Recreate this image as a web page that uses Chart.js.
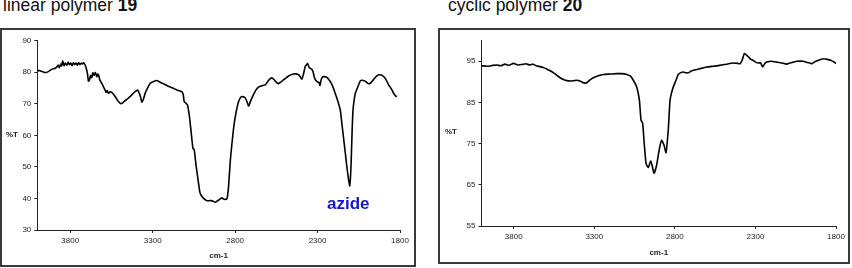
<!DOCTYPE html>
<html>
<head>
<meta charset="utf-8">
<script src="https://cdn.jsdelivr.net/npm/chart.js@4"></script>
<style>
  body { margin: 0; width: 852px; height: 268px; background: #fff; position: relative; overflow: hidden; font-family: "Liberation Sans", Arial, sans-serif; }
  .title { position: absolute; font-size: 17.5px; line-height: 17.5px; color: #111; white-space: nowrap; }
  .box { position: absolute; border: 2px solid #3a3a3a; box-sizing: border-box; }
  .box canvas { position: absolute; left: 0; top: 0; }
  .ylab { position: absolute; font-size: 8px; font-weight: bold; color: #222; }
  #azide { position: absolute; left: 327px; top: 195px; font-size: 17px; line-height: 17px; font-weight: bold; color: #1515cc; }
</style>
</head>
<body>
<div class="title" style="left:3px; top:-3px;">linear polymer <b>19</b></div>
<div class="title" style="left:448px; top:-3px;">cyclic polymer <b>20</b></div>

<div class="box" style="left:0; top:28px; width:416px; height:239px;">
  <div style="position:absolute; left:0; top:0; width:412px; height:235px;"><canvas id="linearChart"></canvas></div>
</div>
<div class="box" style="left:438px; top:28px; width:412px; height:236px;">
  <div style="position:absolute; left:0; top:0; width:408px; height:232px;"><canvas id="cyclicChart"></canvas></div>
</div>
<div class="ylab" style="left:6px; top:130px;">%T</div>
<div class="ylab" style="left:445px; top:127px;">%T</div>
<div id="azide">azide</div>

<script>
// IR spectra, wavenumber (cm-1) vs %T
const xTicks = [3800, 3300, 2800, 2300, 1800];
const linearYTicks = [30, 40, 50, 60, 70, 80, 90];
const cyclicYTicks = [55, 65, 75, 85, 95];

const linearWn = [4000, 3984, 3953, 3933, 3913, 3896, 3882, 3874, 3866, 3858, 3852, 3846, 3838, 3830, 3821, 3813, 3805, 3797, 3789, 3781, 3773, 3765, 3757, 3749, 3741, 3733, 3726, 3720, 3710, 3703, 3696, 3690, 3684, 3677, 3670, 3663, 3656, 3648, 3639, 3634, 3629, 3622, 3615, 3607, 3599, 3591, 3583, 3576, 3569, 3558, 3548, 3538, 3528, 3518, 3508, 3493, 3480, 3467, 3452, 3437, 3420, 3406, 3392, 3380, 3372, 3366, 3356, 3346, 3330, 3315, 3298, 3275, 3260, 3237, 3215, 3194, 3175, 3153, 3138, 3123, 3115, 3109, 3099, 3089, 3083, 3077, 3066, 3056, 3048, 3042, 3036, 3022, 3014, 3007, 2991, 2971, 2955, 2940, 2930, 2920, 2900, 2880, 2870, 2860, 2849, 2840, 2829, 2813, 2799, 2779, 2762, 2750, 2738, 2727, 2718, 2705, 2688, 2672, 2658, 2638, 2617, 2600, 2587, 2575, 2563, 2550, 2537, 2515, 2496, 2476, 2456, 2435, 2415, 2405, 2395, 2385, 2375, 2360, 2352, 2344, 2336, 2328, 2320, 2314, 2303, 2293, 2285, 2279, 2271, 2263, 2248, 2233, 2212, 2192, 2177, 2162, 2152, 2142, 2131, 2121, 2112, 2105, 2099, 2095, 2090, 2085, 2078, 2071, 2055, 2040, 2022, 2006, 1993, 1980, 1968, 1956, 1942, 1929, 1914, 1899, 1884, 1869, 1853, 1838, 1828, 1818, 1808, 1800];
const linearT = [80.5, 80.5, 79.9, 80.2, 80.9, 81.2, 81.6, 82.3, 81.4, 82.6, 82.0, 83.6, 82.1, 82.9, 82.2, 83.2, 82.4, 82.9, 82.1, 83.0, 82.4, 82.9, 82.2, 83.1, 82.4, 82.9, 82.6, 83.0, 82.3, 81.2, 79.7, 77.2, 77.5, 79.0, 78.3, 79.8, 79.0, 79.9, 78.6, 79.4, 79.2, 77.8, 77.0, 76.3, 75.4, 74.6, 73.6, 74.2, 73.3, 73.8, 73.6, 73.0, 72.3, 71.5, 70.7, 70.0, 70.4, 71.0, 71.6, 72.3, 73.2, 73.9, 74.4, 73.2, 71.8, 70.5, 71.5, 73.3, 75.1, 76.5, 77.0, 77.4, 77.0, 76.4, 75.8, 75.3, 74.9, 74.4, 74.1, 73.8, 73.0, 70.7, 70.2, 69.6, 68.0, 65.9, 60.6, 55.9, 55.4, 52.8, 50.1, 44.8, 42.0, 41.1, 40.0, 39.3, 39.3, 39.3, 39.0, 38.8, 39.5, 40.2, 39.8, 39.7, 40.0, 43.7, 52.2, 60.6, 65.9, 70.7, 72.3, 72.2, 71.8, 70.5, 69.3, 71.0, 73.0, 74.5, 75.3, 75.7, 76.0, 77.2, 78.0, 78.2, 77.6, 76.8, 76.4, 77.2, 78.0, 78.8, 79.3, 79.5, 79.2, 78.6, 77.8, 79.5, 81.8, 82.8, 81.6, 81.2, 81.0, 80.2, 78.5, 77.7, 77.0, 76.8, 75.8, 77.5, 78.4, 78.6, 78.5, 77.8, 76.0, 73.2, 70.8, 68.0, 63.5, 59.0, 54.0, 49.5, 46.0, 44.0, 48.0, 53.7, 62.0, 68.0, 71.2, 73.3, 75.5, 77.3, 77.4, 77.0, 76.4, 76.5, 77.2, 78.0, 78.8, 79.2, 79.1, 78.6, 77.6, 76.0, 74.8, 73.3, 72.5, 72.3];

const cyclicWn = [4000, 3965, 3930, 3905, 3880, 3855, 3830, 3802, 3775, 3750, 3725, 3699, 3680, 3660, 3636, 3610, 3590, 3574, 3553, 3533, 3512, 3492, 3470, 3450, 3425, 3403, 3390, 3378, 3362, 3347, 3326, 3306, 3275, 3244, 3200, 3161, 3130, 3099, 3075, 3058, 3037, 3020, 3010, 3000, 2990, 2979, 2965, 2950, 2940, 2929, 2913, 2896, 2882, 2867, 2855, 2841, 2830, 2813, 2793, 2779, 2760, 2748, 2730, 2717, 2700, 2685, 2645, 2602, 2560, 2520, 2480, 2437, 2410, 2396, 2383, 2369, 2356, 2344, 2330, 2313, 2300, 2282, 2268, 2255, 2243, 2230, 2200, 2168, 2137, 2106, 2085, 2065, 2044, 2003, 1980, 1962, 1951, 1925, 1900, 1875, 1848, 1825, 1807, 1800];
const cyclicT = [93.9, 93.8, 94.0, 94.1, 93.9, 94.3, 94.0, 94.5, 94.1, 94.2, 94.4, 94.1, 94.3, 93.9, 93.7, 93.4, 93.0, 92.7, 92.2, 91.6, 91.0, 90.6, 90.3, 90.2, 90.3, 90.4, 90.2, 90.0, 89.7, 89.8, 90.5, 91.0, 91.5, 91.8, 91.9, 92.0, 92.0, 91.8, 91.4, 90.4, 88.8, 85.5, 80.7, 80.0, 75.0, 70.2, 69.2, 70.8, 69.5, 67.8, 69.8, 73.8, 75.8, 74.6, 72.8, 78.3, 85.5, 88.4, 90.4, 91.8, 92.3, 92.4, 92.2, 92.2, 92.6, 92.8, 93.2, 93.6, 93.8, 94.0, 94.3, 94.6, 94.5, 94.4, 95.2, 96.9, 96.5, 96.1, 95.5, 95.2, 94.8, 94.6, 94.6, 93.6, 94.4, 94.8, 95.0, 94.8, 94.6, 94.3, 94.6, 94.8, 95.0, 95.0, 94.7, 94.6, 94.4, 95.0, 95.4, 95.6, 95.4, 95.1, 94.7, 94.4];

function toPoints(wn, t) {
  return wn.map((w, i) => ({ x: w, y: t[i] }));
}

const axisColor = '#222';
const tickFont = { family: '"Liberation Sans", Arial, sans-serif', size: 8 };

function makeSpectrum(canvasId, wn, t, yMin, yMax, yTicks, yWidth, xHeight, pad) {
  return new Chart(document.getElementById(canvasId), {
    type: 'scatter',
    data: {
      datasets: [{
        data: toPoints(wn, t),
        showLine: true,
        borderColor: '#000',
        borderWidth: 1.6,
        pointRadius: 0,
        tension: 0.15
      }]
    },
    options: {
      responsive: true,
      maintainAspectRatio: false,
      animation: false,
      layout: { padding: pad },
      plugins: { legend: { display: false }, tooltip: { enabled: false } },
      scales: {
        x: {
          type: 'linear',
          reverse: true,
          min: 1800,
          max: 4000,
          afterBuildTicks: s => { s.ticks = xTicks.map(v => ({ value: v })); },
          afterFit: s => { s.height = xHeight; },
          grid: { drawOnChartArea: false, tickLength: 3, color: axisColor },
          border: { color: axisColor, width: 1 },
          ticks: { font: tickFont, color: '#222', padding: 3, maxRotation: 0, callback: v => String(v) },
          title: { display: true, text: 'cm-1', font: { family: tickFont.family, size: 8, weight: 'bold' }, color: '#222', padding: { top: 4, bottom: 0 } }
        },
        y: {
          min: yMin,
          max: yMax,
          afterBuildTicks: s => { s.ticks = yTicks.map(v => ({ value: v })); },
          afterFit: s => { s.width = yWidth; },
          grid: { drawOnChartArea: false, tickLength: 3, color: axisColor },
          border: { color: axisColor, width: 1 },
          ticks: { font: tickFont, color: '#222', padding: 3, callback: v => String(v) }
        }
      }
    }
  });
}

makeSpectrum('linearChart', linearWn, linearT, 30, 90, linearYTicks, 35.3, 31, { top: 10.7, right: 14, bottom: 4, left: 0 });
makeSpectrum('cyclicChart', cyclicWn, cyclicT, 55, 100, cyclicYTicks, 41.5, 31.5, { top: 10.7, right: 12, bottom: 4.5, left: 0 });
</script>
</body>
</html>
